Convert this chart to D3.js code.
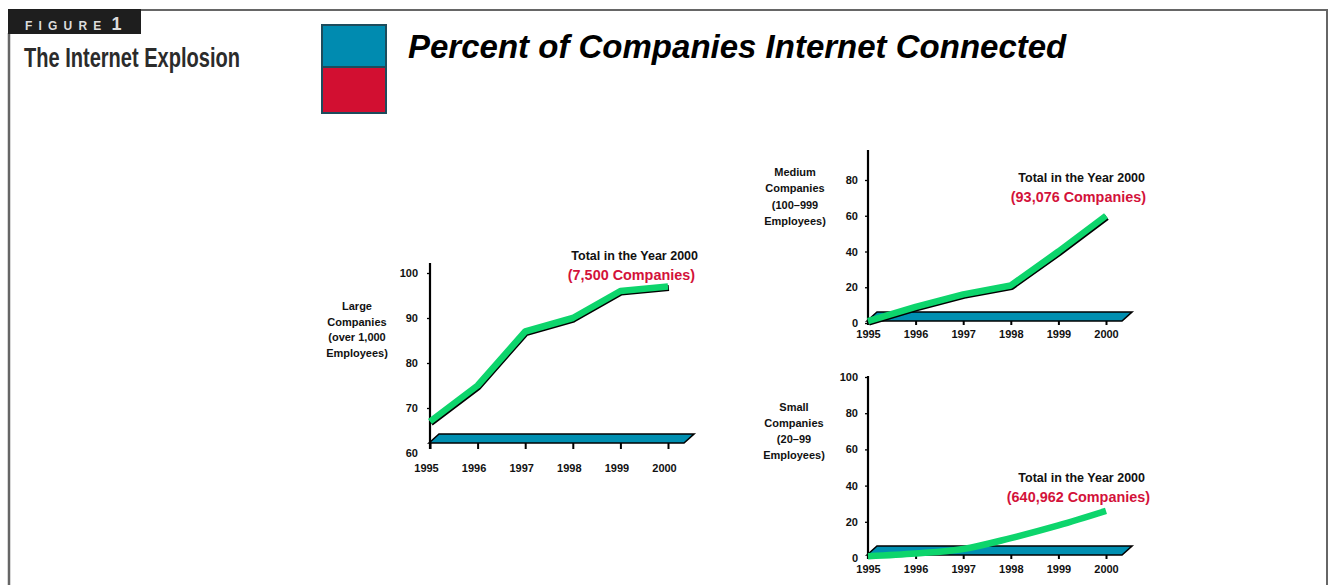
<!DOCTYPE html>
<html>
<head>
<meta charset="utf-8">
<script src="https://cdn.jsdelivr.net/npm/d3@7/dist/d3.min.js"></script>
<style>
  html, body { margin: 0; padding: 0; background: #fff; }
  svg { display: block; }
  .tick text { font-family: "Liberation Sans", Arial, sans-serif; font-weight: bold; font-size: 11px; fill: #111; }
</style>
</head>
<body>
<svg id="chart" width="1329" height="585"></svg>
<script>
// ---- data ----
const years = [1995, 1996, 1997, 1998, 1999, 2000];

const largeValues  = [67, 75, 87, 90, 96, 97];
const mediumValues = [1, 9, 16, 21, 40, 60];
const smallValues  = [1, 2.5, 5, 11, 18, 26];

const largeTicks  = [60, 70, 80, 90, 100];
const mediumTicks = [0, 20, 40, 60, 80];
const smallTicks  = [0, 20, 40, 60, 80, 100];

const largeLabel  = ["Large", "Companies", "(over 1,000", "Employees)"];
const mediumLabel = ["Medium", "Companies", "(100\u2013999", "Employees)"];
const smallLabel  = ["Small", "Companies", "(20\u201399", "Employees)"];

const totalHeading = "Total in the Year 2000";
const largeTotal  = "(7,500 Companies)";
const mediumTotal = "(93,076 Companies)";
const smallTotal  = "(640,962 Companies)";

// ---- styles ----
const FONT = '"Liberation Sans", Arial, sans-serif';
const GREEN = "#0dd56c";
const FLOOR_BLUE = "#008fb1";
const RED = "#d3123a";

const svg = d3.select("#chart");

// ---- page frame ----
svg.append("line").attr("x1", 140).attr("x2", 1328).attr("y1", 10).attr("y2", 10)
  .attr("stroke", "#666").attr("stroke-width", 2);
svg.append("line").attr("x1", 1327).attr("x2", 1327).attr("y1", 9).attr("y2", 585)
  .attr("stroke", "#666").attr("stroke-width", 2);
svg.append("line").attr("x1", 9).attr("x2", 9).attr("y1", 33).attr("y2", 585)
  .attr("stroke", "#666").attr("stroke-width", 2.5);
svg.append("rect").attr("x", 8).attr("y", 9).attr("width", 133).attr("height", 25).attr("fill", "#1e1e1e");

const fig = svg.append("text").attr("x", 25).attr("y", 29.5)
  .attr("font-family", '"Liberation Sans Narrow", "Liberation Sans", Arial, sans-serif')
  .attr("font-weight", "bold").attr("fill", "#dcdcdc");
fig.append("tspan").attr("font-size", 12).attr("letter-spacing", 6.2).text("FIGURE");
fig.append("tspan").attr("font-size", 18).attr("dx", 4).text("1");

svg.append("text").attr("x", 24).attr("y", 66.5)
  .attr("font-family", '"Liberation Sans Narrow", "Liberation Sans", Arial, sans-serif')
  .attr("font-weight", "bold").attr("font-size", 27).attr("fill", "#2b2b2b")
  .attr("textLength", 216).attr("lengthAdjust", "spacingAndGlyphs")
  .text("The Internet Explosion");

// ---- title block ----
svg.append("rect").attr("x", 322).attr("y", 25).attr("width", 64).attr("height", 42)
  .attr("fill", "#008bb0").attr("stroke", "#1d4c5c").attr("stroke-width", 2);
svg.append("rect").attr("x", 322).attr("y", 67).attr("width", 64).attr("height", 46)
  .attr("fill", "#d20f31").attr("stroke", "#1d4c5c").attr("stroke-width", 2);

svg.append("text").attr("x", 408).attr("y", 58)
  .attr("font-family", FONT).attr("font-weight", "bold").attr("font-style", "italic")
  .attr("font-size", 33).attr("fill", "#000")
  .text("Percent of Companies Internet Connected");

// ---- panel drawing ----
function drawPanel(cfg) {
  const g = svg.append("g");
  const x = d3.scaleLinear().domain([years[0], years[years.length - 1]]).range(cfg.xRange);
  const y = d3.scaleLinear().domain(cfg.yDomain).range(cfg.yRange);
  const fy = cfg.floorY;
  const x0 = cfg.xRange[0] - 1, x1 = cfg.xRange[1] + 16;
  const depthX = 10, depthY = -9;

  // 3D floor slab
  g.append("path")
    .attr("d", `M${x0},${fy} L${x0 + depthX},${fy + depthY} L${x1 + depthX},${fy + depthY} L${x1},${fy} Z`)
    .attr("fill", FLOOR_BLUE).attr("stroke", "#000").attr("stroke-width", 1.6)
    .attr("stroke-linejoin", "miter");

  // y axis (ticks + labels), with its own vertical rule
  const yAxis = g.append("g").attr("transform", `translate(${cfg.xRange[0]},0)`)
    .call(d3.axisLeft(y).tickValues(cfg.yTicks).tickSize(3).tickPadding(cfg.yPad));
  yAxis.select(".domain").remove();
  yAxis.selectAll(".tick line").attr("stroke", "#000").attr("stroke-width", 1.3)
    .attr("display", d => (y(d) > fy + 2 ? "none" : null));
  g.append("line").attr("x1", cfg.xRange[0]).attr("x2", cfg.xRange[0])
    .attr("y1", cfg.axisTop).attr("y2", fy + cfg.xTickSize)
    .attr("stroke", "#000").attr("stroke-width", 2.2);

  // x axis along the front edge of the floor
  const xAxis = g.append("g").attr("transform", `translate(0,${fy})`)
    .call(d3.axisBottom(x).tickValues(years).tickFormat(d3.format("d"))
      .tickSize(cfg.xTickSize).tickPadding(cfg.xPad));
  xAxis.select(".domain").remove();
  xAxis.selectAll(".tick line").attr("stroke", "#000").attr("stroke-width", 2);
  xAxis.selectAll(".tick text").attr("dx", cfg.xLabelDx);

  // series ribbon: thin dark edge beneath, green face on top
  const line = d3.line().x((d, i) => x(years[i])).y(d => y(d)).curve(cfg.curve);
  if (cfg.shadow) {
    g.append("path").attr("d", line(cfg.values))
      .attr("transform", "translate(0.9,1.5)")
      .attr("fill", "none").attr("stroke", "#000").attr("stroke-width", 6)
      .attr("stroke-linejoin", "round");
  }
  g.append("path").attr("d", line(cfg.values))
    .attr("fill", "none").attr("stroke", GREEN).attr("stroke-width", 6.5)
    .attr("stroke-linejoin", "round");

  // category label
  const lab = g.append("text").attr("font-family", FONT).attr("font-weight", "bold")
    .attr("font-size", 11).attr("fill", "#111").attr("text-anchor", "middle");
  cfg.label.forEach((t, i) => {
    lab.append("tspan").attr("x", cfg.labelX).attr("y", cfg.labelY + i * cfg.labelStep).text(t);
  });

  // totals annotation
  g.append("text").attr("x", cfg.totalX).attr("y", cfg.totalY)
    .attr("font-family", FONT).attr("font-weight", "bold").attr("font-size", 12.5)
    .attr("fill", "#111").attr("text-anchor", "end").text(totalHeading);
  g.append("text").attr("x", cfg.totalX + cfg.totalRedDx).attr("y", cfg.totalY + 20)
    .attr("font-family", FONT).attr("font-weight", "bold").attr("font-size", 14.4)
    .attr("fill", RED).attr("text-anchor", "end").text(cfg.total);
}

drawPanel({
  values: largeValues, yTicks: largeTicks, label: largeLabel, total: largeTotal,
  xRange: [430, 668], yDomain: [60, 100], yRange: [453, 273],
  axisTop: 263, floorY: 443, yPad: 9, xTickSize: 6, xPad: 15, xLabelDx: -4,
  curve: d3.curveLinear, shadow: true,
  labelX: 357, labelY: 310, labelStep: 15.6,
  totalX: 698, totalY: 260, totalRedDx: -3
});

drawPanel({
  values: mediumValues, yTicks: mediumTicks, label: mediumLabel, total: mediumTotal,
  xRange: [868, 1106], yDomain: [0, 80], yRange: [323, 180],
  axisTop: 150, floorY: 321, yPad: 7, xTickSize: 4, xPad: 5, xLabelDx: 0,
  curve: d3.curveLinear, shadow: true,
  labelX: 795, labelY: 175.5, labelStep: 16.5,
  totalX: 1145, totalY: 182, totalRedDx: 1
});

drawPanel({
  values: smallValues, yTicks: smallTicks, label: smallLabel, total: smallTotal,
  xRange: [868, 1106], yDomain: [0, 100], yRange: [558, 377],
  axisTop: 376, floorY: 555, yPad: 7, xTickSize: 4, xPad: 6, xLabelDx: 0,
  curve: d3.curveMonotoneX, shadow: false,
  labelX: 794, labelY: 410.5, labelStep: 16,
  totalX: 1145, totalY: 482, totalRedDx: 5
});
</script>
</body>
</html>
